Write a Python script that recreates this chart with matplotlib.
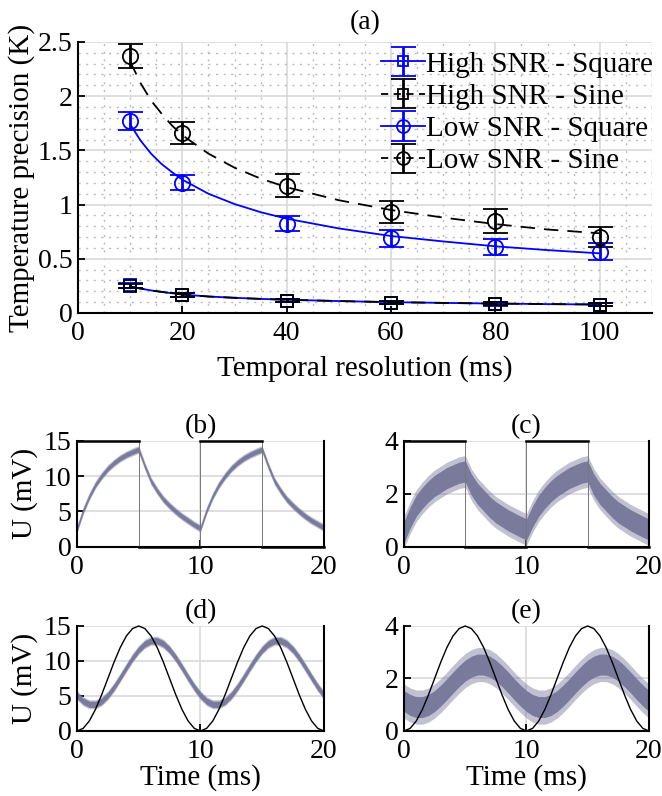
import numpy as np
import matplotlib
matplotlib.use("Agg")
import matplotlib.pyplot as plt
from matplotlib.ticker import MultipleLocator

# ── Panel (a) data ─────────────────────────────────────────────
res_ms = [10, 20, 40, 60, 80, 100]

high_sq = [0.255, 0.170, 0.113, 0.095, 0.083, 0.077]
high_sq_err = [0.020, 0.018, 0.016, 0.015, 0.014, 0.014]
high_sin = [0.250, 0.165, 0.115, 0.095, 0.085, 0.075]
high_sin_err = [0.020, 0.018, 0.016, 0.015, 0.014, 0.014]
low_sq = [1.77, 1.20, 0.825, 0.69, 0.61, 0.567]
low_sq_err = [0.08, 0.07, 0.07, 0.077, 0.077, 0.08]
low_sin = [2.37, 1.66, 1.175, 0.93, 0.85, 0.70]
low_sin_err = [0.107, 0.105, 0.107, 0.10, 0.11, 0.09]

# fitted curves
fit_x = [10, 12, 14, 16, 18, 20, 25, 30, 35, 40, 50, 60, 70, 80, 90, 100]
fit_low_sq = [1.74, 1.59, 1.47, 1.375, 1.30, 1.23, 1.10, 1.005, 0.93, 0.87,
              0.78, 0.71, 0.66, 0.615, 0.58, 0.55]
fit_low_sin = [2.32, 2.12, 1.96, 1.84, 1.73, 1.64, 1.47, 1.34, 1.24, 1.16,
               1.04, 0.95, 0.88, 0.82, 0.77, 0.735]
fit_high = [0.245, 0.225, 0.208, 0.195, 0.182, 0.170, 0.152, 0.140, 0.130,
            0.122, 0.110, 0.100, 0.093, 0.087, 0.082, 0.078]

legend_labels = ["High SNR - Square", "High SNR - Sine",
                 "Low SNR - Square", "Low SNR - Sine"]

# ── Panels (b)-(e) data (0.5 ms steps) ─────────────────────────
t_ms = [0.0, 0.5, 1.0, 1.5, 2.0, 2.5, 3.0, 3.5, 4.0, 4.5, 5.0,
        5.5, 6.0, 6.5, 7.0, 7.5, 8.0, 8.5, 9.0, 9.5, 10.0,
        10.5, 11.0, 11.5, 12.0, 12.5, 13.0, 13.5, 14.0, 14.5, 15.0,
        15.5, 16.0, 16.5, 17.0, 17.5, 18.0, 18.5, 19.0, 19.5, 20.0]

square_t = [0, 5, 5, 10, 10, 15, 15, 20]
square_hi = [15, 15, 0, 0, 15, 15, 0, 0]
square_lo = [4, 4, 0, 0, 4, 4, 0, 0]

resp_b = [2.5, 5.1, 7.15, 8.8, 10.05, 11.1, 11.9, 12.55, 13.05, 13.45, 13.8,
          11.4, 9.3, 7.9, 6.7, 5.8, 5.0, 4.3, 3.7, 3.1, 2.6,
          5.15, 7.2, 8.8, 10.05, 11.1, 11.9, 12.55, 13.05, 13.45, 13.8,
          11.4, 9.3, 7.9, 6.7, 5.8, 5.0, 4.3, 3.7, 3.2, 2.7]
resp_c = [0.55, 1.1, 1.55, 1.85, 2.1, 2.3, 2.45, 2.6, 2.7, 2.8, 2.85,
          2.35, 2.0, 1.75, 1.5, 1.3, 1.15, 1.0, 0.88, 0.76, 0.65,
          1.15, 1.55, 1.85, 2.1, 2.3, 2.45, 2.6, 2.7, 2.8, 2.85,
          2.35, 2.0, 1.75, 1.5, 1.3, 1.15, 1.0, 0.88, 0.76, 0.65]

sine_hi = [0, 0.37, 1.43, 3.09, 5.18, 7.5, 9.82, 11.91, 13.57, 14.63, 15,
           14.63, 13.57, 11.91, 9.82, 7.5, 5.18, 3.09, 1.43, 0.37, 0,
           0.37, 1.43, 3.09, 5.18, 7.5, 9.82, 11.91, 13.57, 14.63, 15,
           14.63, 13.57, 11.91, 9.82, 7.5, 5.18, 3.09, 1.43, 0.37, 0]
sine_lo = [0, 0.10, 0.38, 0.82, 1.38, 2.0, 2.62, 3.18, 3.62, 3.90, 4.0,
           3.90, 3.62, 3.18, 2.62, 2.0, 1.38, 0.82, 0.38, 0.10, 0,
           0.10, 0.38, 0.82, 1.38, 2.0, 2.62, 3.18, 3.62, 3.90, 4.0,
           3.90, 3.62, 3.18, 2.62, 2.0, 1.38, 0.82, 0.38, 0.10, 0]
resp_d = [5.10, 4.25, 3.81, 3.81, 4.25, 5.10, 6.26, 7.63, 9.07, 10.44, 11.60,
          12.45, 12.89, 12.89, 12.45, 11.60, 10.44, 9.07, 7.63, 6.26, 5.10,
          4.25, 3.81, 3.81, 4.25, 5.10, 6.26, 7.63, 9.07, 10.44, 11.60,
          12.45, 12.89, 12.89, 12.45, 11.60, 10.44, 9.07, 7.63, 6.26, 5.10]
resp_e = [1.14, 0.99, 0.91, 0.91, 0.99, 1.14, 1.35, 1.59, 1.85, 2.09, 2.30,
          2.45, 2.53, 2.53, 2.45, 2.30, 2.09, 1.85, 1.59, 1.35, 1.14,
          0.99, 0.91, 0.91, 0.99, 1.14, 1.35, 1.59, 1.85, 2.09, 2.30,
          2.45, 2.53, 2.53, 2.45, 2.30, 2.09, 1.85, 1.59, 1.35, 1.14]

# noise band half-widths (inner, outer)
band_b = (0.35, 0.55)
band_c = (0.40, 0.60)
band_d = (0.45, 0.65)
band_e = (0.40, 0.65)

# ── Style ──────────────────────────────────────────────────────
BLUE = "#0000FF"
TRACE = "#76769B"
GRID = "#D9D9D9"
FS = 20

plt.rcParams.update({
    "font.family": "Liberation Serif",
    "font.size": FS,
    "axes.linewidth": 1.5,
    "xtick.direction": "in",
    "ytick.direction": "in",
    "xtick.major.width": 1.3,
    "ytick.major.width": 1.3,
    "xtick.major.size": 5,
    "ytick.major.size": 5,
    "xtick.major.pad": 6,
    "ytick.major.pad": 4,
})

fig = plt.figure(figsize=(6.62, 7.96), dpi=100)

# ── Panel (a) ──────────────────────────────────────────────────
ax = fig.add_axes([0.1178, 0.6068, 0.867, 0.3405])
ax.set_xlim(0, 110)
ax.set_ylim(0, 2.5)
ax.xaxis.set_major_locator(MultipleLocator(20))
ax.xaxis.set_minor_locator(MultipleLocator(5))
ax.yaxis.set_minor_locator(MultipleLocator(0.1))
ax.set_yticks([0, 0.5, 1, 1.5, 2, 2.5])
ax.set_yticklabels(["0", "0.5", "1", "1.5", "2", "2.5"])
ax.tick_params(which="minor", length=0)
ax.grid(True, which="major", color=GRID, lw=1.2)
ax.grid(True, which="minor", color="#BBBBBB", lw=1.0, ls=(0, (1.5, 4)))
ax.set_axisbelow(True)
for s in ("top", "right"):
    ax.spines[s].set_visible(False)

ax.plot(fit_x, fit_high, color=BLUE, lw=1.3, zorder=2)
ax.plot(fit_x, fit_high, color="black", lw=1.3, dashes=(8, 5), zorder=2)
ax.plot(fit_x, fit_low_sq, color=BLUE, lw=1.3, zorder=2)
ax.plot(fit_x, fit_low_sin, color="black", lw=1.3, dashes=(8, 5), zorder=2)

series = [
    (high_sq, high_sq_err, BLUE, "s", 9),
    (high_sin, high_sin_err, "black", "s", 9),
    (low_sq, low_sq_err, BLUE, "o", 11),
    (low_sin, low_sin_err, "black", "o", 11),
]
handles = []
for (y, e, c, m, ms), lab in zip(series, legend_labels):
    ax.errorbar(res_ms, y, yerr=e, fmt=m, mfc="none", mec=c, ms=ms, mew=1.3,
                ecolor=c, elinewidth=2, capsize=9, capthick=2, zorder=3)
    ls = "-" if c == BLUE else (0, (4, 3))
    h = ax.errorbar([np.nan], [np.nan], yerr=[0.1], fmt=m, ls=ls, color=c,
                    lw=1.3, mfc="none", mec=c, ms=ms * 0.85, mew=1.3,
                    ecolor=c, elinewidth=2, capsize=9, capthick=2)
    handles.append(h)

ax.legend(handles, legend_labels, loc="upper right",
          bbox_to_anchor=(1.03, 1.025), frameon=False, fontsize=21,
          handlelength=1.5, handletextpad=0.05, labelspacing=0.2,
          borderaxespad=0.15)

ax.set_xlabel("Temporal resolution (ms)", fontsize=21, labelpad=6)
ax.set_ylabel("Temperature precision (K)", fontsize=21, labelpad=2)
ax.set_title("(a)", fontsize=FS, pad=9)


# ── Panels (b)-(e) ─────────────────────────────────────────────
def small_panel(rect, ymax, yticks, label, ref_t, ref_y, resp, band,
                square=False, ylabel=False, xlabel=False):
    a = fig.add_axes(rect)
    a.set_xlim(0, 20)
    a.set_ylim(0, ymax)
    a.set_xticks([0, 10, 20])
    a.set_yticks(yticks)
    a.grid(True, color=GRID, lw=1.2)
    a.set_axisbelow(True)
    a.spines["top"].set_visible(False)
    r = np.array(resp)
    a.fill_between(t_ms, r - band[1], r + band[1], color=TRACE, alpha=0.45,
                   lw=0, zorder=2)
    a.fill_between(t_ms, r - band[0], r + band[0], color=TRACE, alpha=0.95,
                   lw=0, zorder=2)
    if square:
        # thin transitions, heavier (noisy) levels
        a.plot(ref_t, ref_y, color="#777777", lw=0.7, zorder=3, clip_on=False)
        for i in range(0, len(ref_t), 2):
            a.plot(ref_t[i:i + 2], ref_y[i:i + 2], color="black", lw=1.8,
                   zorder=3, clip_on=False)
    else:
        a.plot(ref_t, ref_y, color="black", lw=1.0, zorder=3, clip_on=False)
    a.set_title(label, fontsize=FS, pad=6)
    if ylabel:
        a.set_ylabel("U (mV)", fontsize=21, labelpad=4)
    if xlabel:
        a.set_xlabel("Time (ms)", fontsize=21, labelpad=0)
    return a


small_panel([0.1163, 0.3132, 0.373, 0.1328], 15, [0, 5, 10, 15], "(b)",
            square_t, square_hi, resp_b, band_b, square=True, ylabel=True)
small_panel([0.6103, 0.3132, 0.370, 0.1328], 4, [0, 2, 4], "(c)",
            square_t, square_lo, resp_c, band_c, square=True)
small_panel([0.1163, 0.0817, 0.373, 0.1319], 15, [0, 5, 10, 15], "(d)",
            t_ms, sine_hi, resp_d, band_d, ylabel=True, xlabel=True)
small_panel([0.6103, 0.0817, 0.370, 0.1319], 4, [0, 2, 4], "(e)",
            t_ms, sine_lo, resp_e, band_e, xlabel=True)

fig.savefig("out.png", dpi=100)
